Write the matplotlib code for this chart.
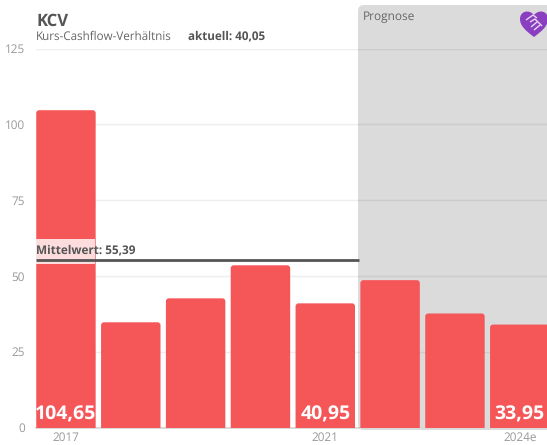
import matplotlib
matplotlib.use("Agg")
import matplotlib.pyplot as plt
from matplotlib.patches import FancyBboxPatch, PathPatch
from matplotlib.path import Path
from matplotlib.transforms import Affine2D

plt.rcParams['font.family'] = ['Open Sans', 'DejaVu Sans']
plt.rcParams['text.hinting'] = 'no_hinting'

W, H = 547, 445

values = [104.65, 34.7, 42.6, 53.5, 40.95, 48.6, 37.6, 33.95]
shown = {0: "104,65", 4: "40,95", 7: "33,95"}
year_ticks = [0, 4, 7]
year_labels = ["2017", "2021", "2024e"]
y_ticks = [0, 25, 50, 75, 100, 125]
mean_value = 55.39
mean_label = "Mittelwert: 55,39"

fig = plt.figure(figsize=(W / 100, H / 100), dpi=100, facecolor='white')
ax = fig.add_axes([36 / W, 1 - 427.5 / H, (W - 36) / W, 379 / H])
ax.set_xlim(-0.462, 7.42)
ax.set_ylim(0, 125)
ax.patch.set_visible(False)

for s in ax.spines.values():
    s.set_visible(False)

ax.set_yticks(y_ticks)
ax.set_xticks(year_ticks)
ax.set_xticklabels(year_labels)
ax.tick_params(axis='both', length=0, labelsize=8.5, labelcolor='#999999')
ax.tick_params(axis='y', pad=8)
ax.tick_params(axis='x', pad=3)
ax.grid(axis='y', color='#eeeeee', linewidth=1, zorder=0)
ax.set_axisbelow(True)

# px -> fig transform for the furniture
px = Affine2D().scale(1 / W, -1 / H).translate(0, 1) + fig.transFigure

# baseline left of the panel
ax.plot([-0.462, 4.52], [0, 0], color='#d4d4d4', lw=1.2, zorder=1, clip_on=False)

# prognose panel
panel = FancyBboxPatch((358, 5), 200, 425, boxstyle="round,pad=0,rounding_size=6",
                       transform=px, facecolor='black', alpha=0.14, edgecolor='none', zorder=1)
ax.add_patch(panel)
panel.set_clip_on(False)

# bars, rounded at the top only (bottom corners are clipped by the axes)
bar_w = 0.917
for i, v in enumerate(values):
    b = FancyBboxPatch((i - bar_w / 2, -5), bar_w, v + 5,
                       boxstyle="round,pad=0,rounding_size=0.046", mutation_aspect=21.4,
                       facecolor='#f55658', edgecolor='none', zorder=2)
    ax.add_patch(b)
    if i in shown:
        ax.text(i, 1.2, shown[i], color='white', fontsize=14, fontweight='bold',
                ha='center', va='bottom', zorder=5)

# mean line
ax.plot([-0.462, 4.52], [mean_value, mean_value], color='#555555', lw=2, zorder=4, solid_capstyle='butt')
ax.text(-0.462, mean_value + 0.9, mean_label, color='#555555', fontsize=8.5, fontweight='bold',
        ha='left', va='bottom', zorder=4)
# pale strip behind the label, over the first bar
ax.fill_between([-0.462, 0.455], 53.9, 62.2, color='white', alpha=0.8, lw=0, zorder=3)

# header
fig.text(36 / W, 1 - 25.5 / H, "KCV", fontsize=12, fontweight='bold', color='#555555')
fig.text(36 / W, 1 - 39.5 / H, "Kurs-Cashflow-Verhältnis", fontsize=8.4, color='#666666')
fig.text(188 / W, 1 - 39.5 / H, "aktuell: 40,05", fontsize=8.4, fontweight='bold', color='#555555')
fig.text(363 / W, 1 - 20 / H, "Prognose", fontsize=8.6, color='#666666')

# logo heart
heart = Path([(534, 37),
              (526, 31), (520, 26), (520, 19),
              (520, 11), (529, 9), (534, 15),
              (539, 9), (548, 11), (548, 19),
              (548, 26), (542, 31), (534, 37)],
             [Path.MOVETO] + [Path.CURVE4] * 12)
logo = PathPatch(heart, transform=px, facecolor='#8a3fc0', edgecolor='none', zorder=6)
fig.add_artist(logo)
for pts in ([(526, 20), (533, 15), (537, 18)],
            [(530, 22), (535, 19), (542, 26)],
            [(531, 27), (537, 22)], [(534, 30), (540, 25)]):
    line = Path(pts)
    fig.add_artist(PathPatch(line, transform=px, facecolor='none', edgecolor='#e6d6f2', lw=1, zorder=7))

fig.savefig("out.png", dpi=100)
